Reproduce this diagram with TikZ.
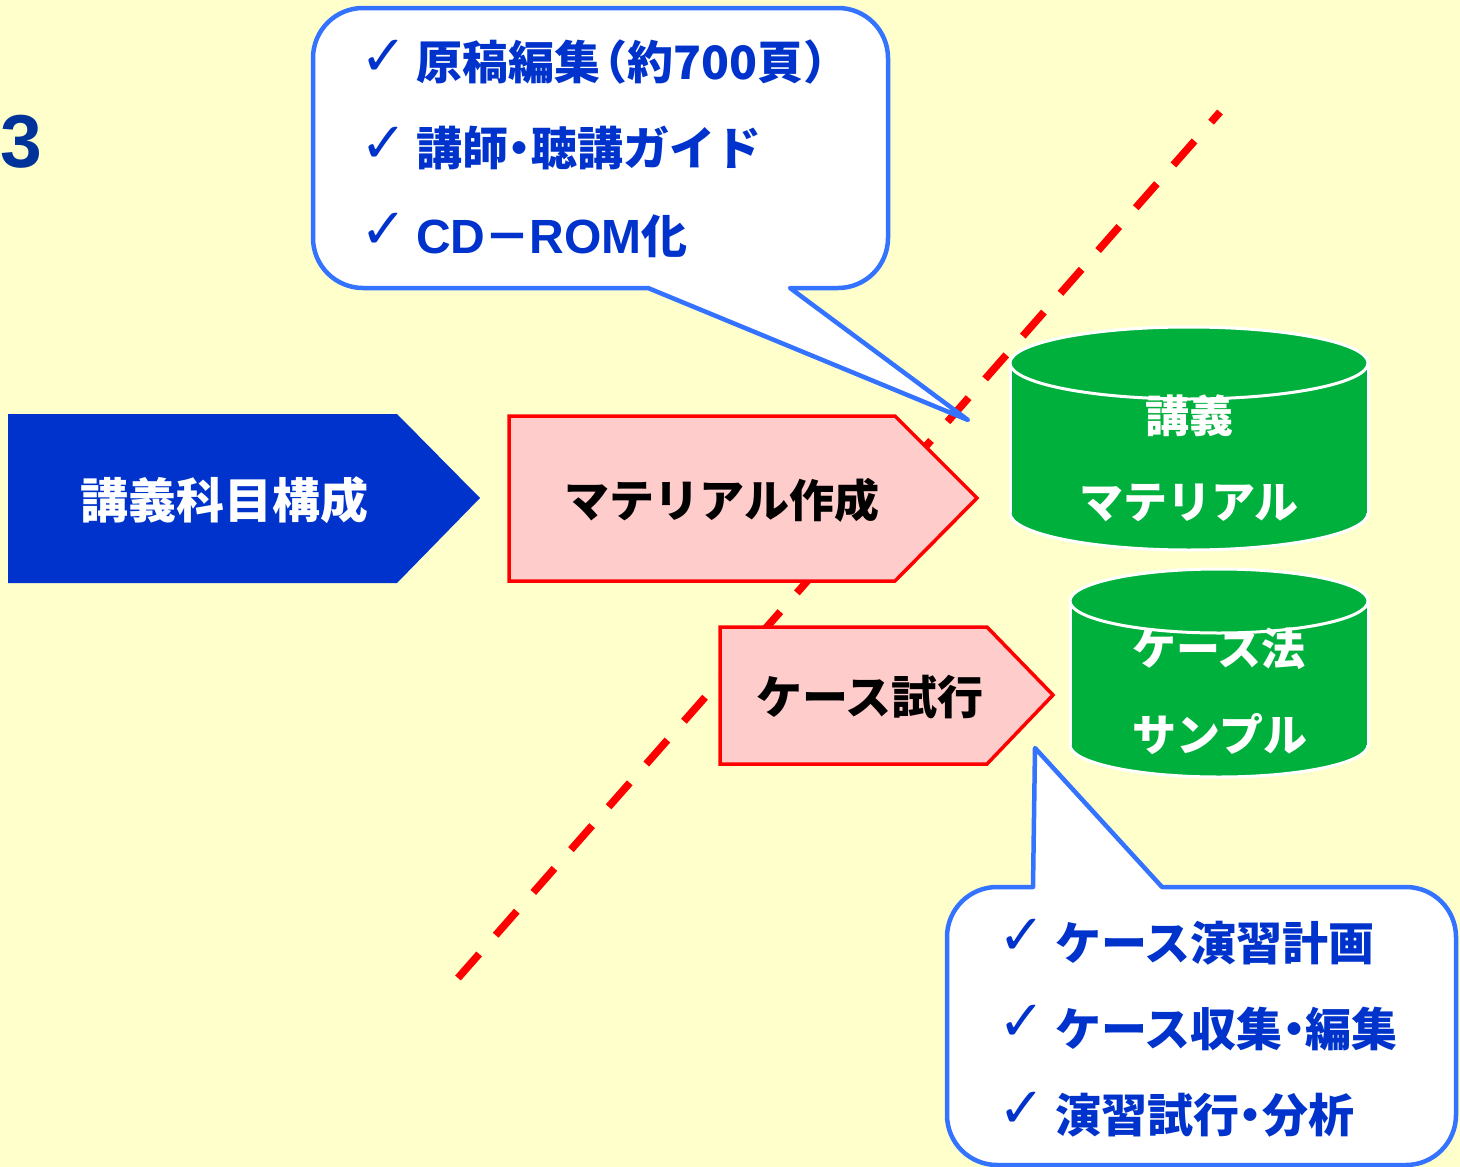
\documentclass[tikz,border=0pt]{standalone}
\usepackage{fontspec}
\newfontfamily\jp{Noto Sans CJK JP}
\newfontfamily\dv{DejaVu Sans}
\newfontfamily\arf{Liberation Sans}
\definecolor{bgc}{HTML}{FFFFCC}
\definecolor{navy}{HTML}{0033CC}
\definecolor{dnavy}{HTML}{003399}
\definecolor{pinkf}{HTML}{FFCCCC}
\definecolor{redc}{HTML}{FF0000}
\definecolor{greenc}{RGB}{0,176,60}
\definecolor{callb}{RGB}{51,115,255}
\begin{document}
\begin{tikzpicture}[x=1pt,y=1pt,
  bluearrow/.style={fill=navy},
  pinkarrow/.style={fill=pinkf,draw=redc,line width=3.5pt,line join=miter},
  cylfill/.style={fill=greenc},
  cylline/.style={draw=white,line width=3pt},
  callout/.style={fill=white,draw=callb,line width=4.5pt,line join=round},
  redline/.style={draw=redc,line width=7.5pt,dash pattern=on 32pt off 25pt},
  whitebold/.style={text=white,inner sep=0pt,font=\jp\bfseries\fontsize{48}{52}\selectfont},
  blackbold/.style={text=black,inner sep=0pt,font=\jp\bfseries\fontsize{45}{50}\selectfont},
  cyltext/.style={text=white,inner sep=0pt,font=\jp\bfseries\fontsize{44}{48}\selectfont},
  calltext/.style={text=navy,inner sep=0pt,anchor=west,font=\jp\bfseries\fontsize{46}{50}\selectfont},
  checkm/.style={text=navy,inner sep=0pt,font=\dv\fontsize{56}{60}\selectfont}
]
\useasboundingbox (0,0) rectangle (1460,-1167);
\fill[bgc] (0,0) rectangle (1460,-1167);

% dashed red diagonal
\coordinate (d1) at (458,-978);
\coordinate (d2) at (1220,-112);
\draw[redline] (d1) -- (d2);

% "3"
\node[inner sep=0pt,anchor=base west,text=dnavy,font=\arf\bfseries\fontsize{75}{80}\selectfont] (three) at (0,-167) {3};

% blue arrow
\path[bluearrow] (8,-414) -- (397,-414) -- (480,-498) -- (397,-583) -- (8,-583) -- cycle;
\node[whitebold] (t1) at (224,-500) {講義科目構成};

% pink arrow 1
\path[pinkarrow] (509,-416) -- (895,-416) -- (977,-498) -- (895,-581) -- (509,-581) -- cycle;
\node[blackbold] (t2) at (722,-500) {マテリアル作成};

% pink arrow 2
\path[pinkarrow] (720,-627) -- (987,-627) -- (1053,-695) -- (987,-764) -- (720,-764) -- cycle;
\node[blackbold,font=\jp\bfseries\fontsize{46}{50}\selectfont] (t3) at (870,-697) {ケース試行};

% cylinder 1
\filldraw[cylfill,cylline] (1189,-513) ellipse[x radius=179,y radius=37];
\fill[greenc] (1010,-363) rectangle (1368,-513);
\draw[cylline] (1010,-363) -- (1010,-513) (1368,-363) -- (1368,-513);
\filldraw[cylfill,cylline] (1189,-363) ellipse[x radius=179,y radius=36];
\node[cyltext] (c1a) at (1189,-416) {講義};
\node[cyltext] (c1b) at (1189,-503) {マテリアル};

% cylinder 2
\filldraw[cylfill,cylline] (1219,-745) ellipse[x radius=149,y radius=32];
\fill[greenc] (1070,-601) rectangle (1368,-745);
\draw[cylline] (1070,-601) -- (1070,-745) (1368,-601) -- (1368,-745);
\filldraw[cylfill,cylline] (1219,-601) ellipse[x radius=149,y radius=32];
\node[cyltext] (c2a) at (1219,-649) {ケース法};
\node[cyltext] (c2b) at (1220,-734) {サンプル};

% callout 1
\path[callout] (648,-288) -- (363,-288) arc[start angle=270,end angle=180,radius=50]
  -- (313,-58) arc[start angle=180,end angle=90,radius=50]
  -- (838,-8) arc[start angle=90,end angle=0,radius=50]
  -- (888,-238) arc[start angle=0,end angle=-90,radius=50]
  -- (790,-288) -- (968,-420) -- cycle;
\node[checkm] (k1) at (384,-58) {✓};
\node[checkm] (k2) at (384,-145) {✓};
\node[checkm] (k3) at (384,-231) {✓};
\node[calltext] (l1) at (416,-62) {原稿編集\kern-0.4em（約700頁）};
\node[calltext] (l2) at (416,-148) {講師\kern-0.25em・\kern-0.25em聴講ガイド};
\node[calltext] (l3) at (416,-236) {{\arf\bfseries\fontsize{48}{52}\selectfont CD}\kern-0.02em－\kern-0.02em{\arf\bfseries\fontsize{48}{52}\selectfont ROM}化};

% callout 2
\path[callout] (1033,-887) -- (1035,-748) -- (1162,-887) -- (1406,-887)
  arc[start angle=90,end angle=0,radius=50]
  -- (1456,-1115) arc[start angle=0,end angle=-90,radius=50]
  -- (997,-1165) arc[start angle=270,end angle=180,radius=50]
  -- (947,-937) arc[start angle=180,end angle=90,radius=50] -- cycle;
\node[checkm] (k4) at (1022,-937) {✓};
\node[checkm] (k5) at (1022,-1023) {✓};
\node[checkm] (k6) at (1022,-1110) {✓};
\node[calltext] (m1) at (1055,-943) {ケース演習計画};
\node[calltext] (m2) at (1055,-1029) {ケース収集\kern-0.25em・\kern-0.25em編集};
\node[calltext] (m3) at (1055,-1115) {演習試行\kern-0.25em・\kern-0.25em分析};
\end{tikzpicture}
\end{document}
